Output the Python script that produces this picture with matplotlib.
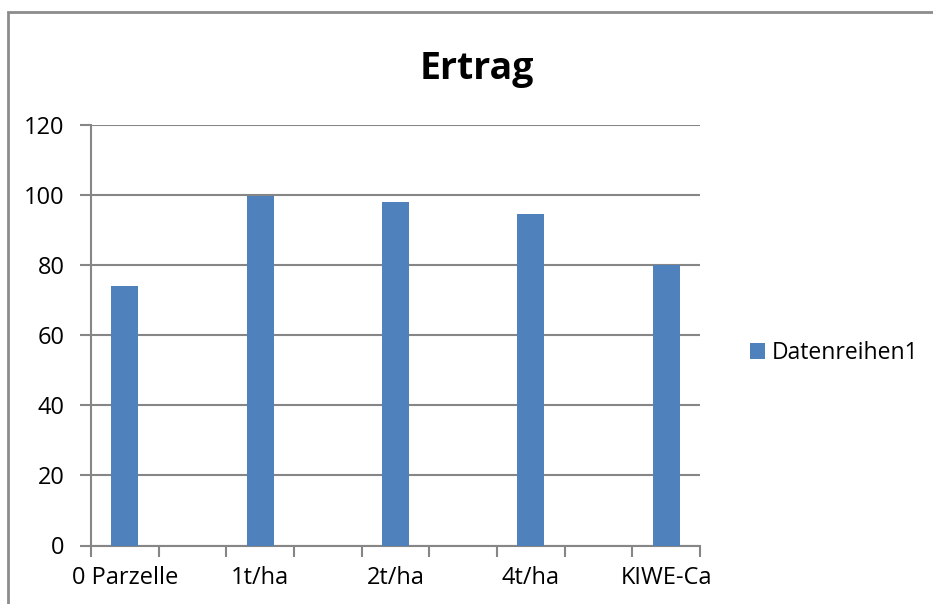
import matplotlib.pyplot as plt
from matplotlib.patches import Rectangle
import numpy as np

plt.rcParams['font.family'] = ['Open Sans', 'DejaVu Sans']
plt.rcParams.update({'font.size': 17})

# Excel-Diagramm "Ertrag": 9 Kategorien, nur jede zweite hat einen Balken
kategorien = ['0 Parzelle', '1t/ha', '2t/ha', '4t/ha', 'KIWE-Ca']
ertrag = [74, 99.7, 97.9, 94.4, 80]
n_slots = 9
serie = 'Datenreihen1'

blau = '#4F81BD'
grau = '#868686'

fig = plt.figure(figsize=(9.33, 6.04), dpi=100)
ax = fig.add_axes([91/933, 1-545.5/604, (700-91)/933, (545.5-124.5)/604])

pos = np.arange(len(kategorien))*2
ax.bar(pos, ertrag, width=0.4, color=blau, label=serie, zorder=3)

ax.set_xlim(-0.5, n_slots-0.5)
ax.set_ylim(0, 120)
ax.set_yticks(np.arange(0, 121, 20))
ax.grid(axis='y', color=grau, linewidth=1.5, zorder=0)

# Striche an den Kategoriegrenzen, Beschriftung in der Mitte
ax.set_xticks(np.arange(-0.5, n_slots, 1.0))
ax.set_xticklabels([])
ax.set_xticks(pos, minor=True)
ax.set_xticklabels(kategorien, minor=True)
ax.tick_params(axis='x', which='major', length=8, width=1.5, color=grau)
ax.tick_params(axis='x', which='minor', length=0, pad=15)
ax.tick_params(axis='y', length=8, width=1.5, color=grau, pad=11)

for s in ['top', 'right']:
    ax.spines[s].set_visible(False)
for s in ['left', 'bottom']:
    ax.spines[s].set_color(grau)
    ax.spines[s].set_linewidth(1.5)

fig.text(477/933, 1-69/604, 'Ertrag', ha='center', va='center',
         fontsize=27, fontweight='bold')

fig.legend(loc='center left', bbox_to_anchor=(739/933, 1-353/604),
           frameon=False, handlelength=0.65, handleheight=0.65,
           handletextpad=0.3, borderpad=0, fontsize=16.5)

# Rahmen des Diagrammbereichs
fig.add_artist(Rectangle((8/933, -0.1), 1.2, 1-12/604+0.1,
                         transform=fig.transFigure, fill=False,
                         edgecolor='#8c8c8c', linewidth=2))

plt.savefig('out.png', dpi=100)
